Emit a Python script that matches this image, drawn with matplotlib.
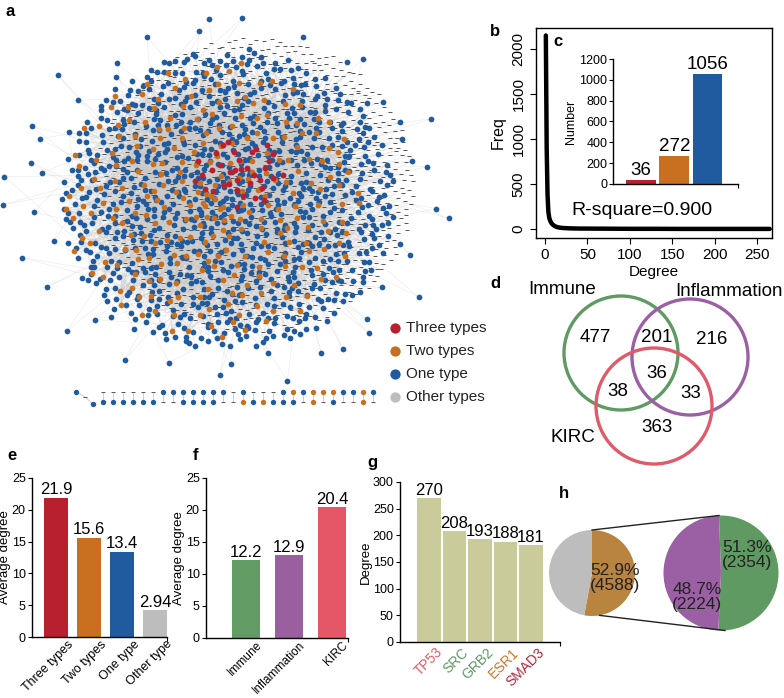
import numpy as np
import matplotlib
matplotlib.use('Agg')
import matplotlib.pyplot as plt
from matplotlib.collections import LineCollection
from matplotlib.patches import Circle

plt.rcParams['font.family'] = ['Liberation Sans', 'DejaVu Sans']
plt.rcParams['axes.linewidth'] = 1.0

W, H = 784, 698

# ---- data ----
type_labels = ['Three types', 'Two types', 'One type', 'Other types']
type_counts = [36, 272, 1056]          # node numbers (panel c)
n_other_drawn = 1300                   # grey nodes drawn in panel a

deg_b = [1, 2, 3, 4, 5, 6, 7, 8, 10, 12, 14, 17, 20, 25, 30, 40, 60, 80, 100, 130, 160, 200, 230, 265]
freq_b = [2150, 900, 380, 190, 125, 95, 75, 60, 42, 30, 22, 16, 12, 9, 7, 5, 4, 3, 2, 2, 1, 1, 1, 1]
r_square = '0.900'

venn_sets = ['Immune', 'Inflammation', 'KIRC']
venn_counts = {'100': 477, '010': 216, '001': 363, '110': 201, '101': 38, '011': 33, '111': 36}

e_cats = ['Three types', 'Two types', 'One type', 'Other type']
e_heights = [21.9, 15.6, 13.4, 4.2]
e_labels = ['21.9', '15.6', '13.4', '2.94']

f_cats = ['Immune', 'Inflammation', 'KIRC']
f_vals = [12.2, 12.9, 20.4]

g_genes = ['TP53', 'SRC', 'GRB2', 'ESR1', 'SMAD3']
g_vals = [270, 208, 193, 188, 181]
g_gene_colors = ['#e05a6a', '#5f9a62', '#5f9a62', '#c8772e', '#b3263a']

h_outer = [52.9, 47.1]
h_outer_count = 4588
h_inner = [51.3, 48.7]
h_inner_counts = [2354, 2224]

# bottom pairs in panel a: b = one type, o = two types, g = other
pair_top = 'ggggggbbbbbbbgbgggbobooobbob'
pair_bot = 'bbbbbbggbbbbggobobbbgogbggog'

c_red, c_org, c_blue, c_grey = '#b8202f', '#c8701f', '#1f5b9e', '#bdbdbd'
node_col = {'b': c_blue, 'o': c_org}

fig = plt.figure(figsize=(W / 100, H / 100), dpi=100)


def px_axes(l, t, r, b):
    return fig.add_axes([l / W, 1 - b / H, (r - l) / W, (b - t) / H])


# ---------------- panel a : network ----------------
axa = px_axes(0, 0, 480, 440)
axa.set_xlim(0, 480)
axa.set_ylim(440, 0)
axa.axis('off')


def halton(n, base, start):
    out = np.zeros(n)
    for j in range(n):
        i = j + start
        f, r = 1.0, 0.0
        while i > 0:
            f /= base
            r += f * (i % base)
            i //= base
        out[j] = r
    return out


def cloud(n, cx, cy, rx, ry, bases, start, alpha, rmin=0.0, rmax=1.0):
    u = halton(n, bases[0], start)
    v = halton(n, bases[1], start)
    r = rmin + (rmax - rmin) * u ** alpha
    t = 2 * np.pi * v
    return cx + rx * r * np.cos(t), cy + ry * r * np.sin(t)


rx_, ry_ = cloud(type_counts[0], 240, 172, 48, 36, (2, 3), 7, 0.6)
ox_, oy_ = cloud(type_counts[1], 212, 200, 150, 140, (5, 7), 11, 0.6)
bx_, by_ = cloud(type_counts[2] - 56, 228, 200, 168, 150, (2, 3), 131, 0.55)
bx2, by2 = cloud(56, 228, 200, 170, 140, (3, 5), 17, 1.0, rmin=1.02, rmax=1.35)
gx_, gy_ = cloud(n_other_drawn, 255, 185, 160, 148, (3, 7), 23, 0.5)
bx_ = np.concatenate([bx_, bx2])
by_ = np.concatenate([by_, by2])

hx = np.concatenate([rx_, ox_])
hy = np.concatenate([ry_, oy_])
nh = len(hx)
segs = []
for xs, ys, mul in [(bx_, by_, 37), (gx_, gy_, 53), (ox_, oy_, 11), (bx_, by_, 97)]:
    for i in range(len(xs)):
        h = (i * mul + 5) % nh
        segs.append([(xs[i], ys[i]), (hx[h], hy[h])])
axa.add_collection(LineCollection(segs, colors='#c8c8c8', linewidths=0.3, alpha=0.5, zorder=1))

axa.scatter(gx_, gy_, marker='_', s=7, color='#555555', linewidths=0.7, zorder=2)
axa.scatter(bx_, by_, s=17, color=c_blue, linewidths=0, zorder=3)
axa.scatter(ox_, oy_, s=17, color=c_org, linewidths=0, zorder=4)
axa.scatter(rx_, ry_, s=18, color=c_red, linewidths=0, zorder=5)

# small separate pairs at the bottom
x0, step, yt, yb = 103.3, 10.0, 392, 402
for row, yy in [(pair_top, yt), (pair_bot, yb)]:
    for i, c in enumerate(row):
        xx = x0 + i * step
        if c == 'g':
            axa.scatter([xx], [yy], marker='_', s=7, color='#555555', linewidths=0.7, zorder=3)
        else:
            axa.scatter([xx], [yy], s=15, color=node_col[c], linewidths=0, zorder=3)
for i in range(len(pair_top)):
    xx = x0 + i * step
    axa.plot([xx, xx], [yt, yb], color='#bbbbbb', lw=0.5, zorder=1)
axa.plot([76, 85, 93], [392, 397, 404], color='#bbbbbb', lw=0.5, zorder=1)
axa.scatter([76, 93], [392, 404], s=15, color=c_blue, linewidths=0, zorder=3)
axa.scatter([85], [397], marker='_', s=7, color='#555555', linewidths=0.7, zorder=3)

leg_cols = [c_red, c_org, c_blue, c_grey]
for i, (lab, col) in enumerate(zip(type_labels, leg_cols)):
    yy = 328 + 23 * i
    axa.scatter([395], [yy], s=55, color=col, linewidths=0, zorder=6)
    axa.text(406, yy, lab, fontsize=11, va='center', ha='left', color='#222222')

fig.text(6 / W, 1 - 12 / H, 'a', fontsize=12, fontweight='bold', va='center')

# ---------------- panel b : degree distribution ----------------
axb = px_axes(536, 28, 772, 238)
axb.plot(deg_b, freq_b, color='black', lw=3.2, solid_capstyle='round')
axb.set_xlim(-10.6, 267.7)
axb.set_ylim(-100, 2233)
axb.set_xticks([0, 50, 100, 150, 200, 250])
axb.set_yticks([0, 500, 1000, 1500, 2000])
axb.tick_params(labelsize=11, length=4, direction='out')
for t in axb.get_yticklabels():
    t.set_rotation(90)
    t.set_va('center')
axb.set_xlabel('Degree', fontsize=11, labelpad=2)
axb.set_ylabel('Freq', fontsize=11.5, labelpad=4)
axb.text(0.45, 0.13, 'R-square=' + r_square, transform=axb.transAxes, fontsize=14,
         ha='center', va='center')
fig.text(490 / W, 1 - 31 / H, 'b', fontsize=12, fontweight='bold', va='center')
fig.text(553 / W, 1 - 41 / H, 'c', fontsize=12, fontweight='bold', va='center')

# inset c
axc = px_axes(613, 59, 738, 184)
cx = np.arange(len(type_counts))
axc.bar(cx, type_counts, width=0.9, color=[c_red, c_org, c_blue])
for x, v in zip(cx, type_counts):
    axc.text(x, v + 10, str(v), ha='center', va='bottom', fontsize=13.5)
axc.set_xlim(-0.85, 2.92)
axc.set_ylim(0, 1200)
axc.set_yticks(range(0, 1201, 200))
axc.set_xticks([2.92])
axc.set_xticklabels([])
axc.tick_params(labelsize=9, length=3, pad=1)
axc.spines[['top', 'right']].set_visible(False)
axc.set_ylabel('Number', fontsize=9, labelpad=2)
axc.patch.set_alpha(0)

# ---------------- panel d : venn ----------------
axd = px_axes(480, 270, 784, 470)
axd.set_xlim(480, 784)
axd.set_ylim(470, 270)
axd.axis('off')
circ = [(621, 353, 57, '#5f9a62'), (690, 357, 58, '#9b5fa3'), (654, 406, 58, '#e05a6a')]
for cxx, cyy, rr, col in circ:
    axd.add_patch(Circle((cxx, cyy), rr, fill=False, lw=2.4, edgecolor=col))
axd.text(562, 290, venn_sets[0], fontsize=13.5, ha='center', va='center')
axd.text(729, 291, venn_sets[1], fontsize=13.5, ha='center', va='center')
axd.text(573, 437, venn_sets[2], fontsize=13.5, ha='center', va='center')
venn_pos = {'100': (595, 338), '110': (657, 338), '010': (712, 339), '111': (657, 373),
            '101': (618, 391), '011': (691, 393), '001': (657, 428)}
for k, (xx, yy) in venn_pos.items():
    axd.text(xx, yy, str(venn_counts[k]), fontsize=13.5, ha='center', va='center')
fig.text(490 / W, 1 - 283 / H, 'd', fontsize=12, fontweight='bold', va='center')


# ---------------- panels e, f, g : bars ----------------
def bar_panel(ax, heights, labels, colors, xlim, width, ylim, yticks, ylab):
    x = np.arange(len(heights))
    ax.bar(x, heights, width=width, color=colors)
    for xi, h, lab in zip(x, heights, labels):
        ax.text(xi, h + ylim[1] * 0.002, lab, ha='center', va='bottom', fontsize=12)
    ax.set_xlim(*xlim)
    ax.set_ylim(*ylim)
    ax.set_yticks(yticks)
    ax.set_xticks([xlim[1]])
    ax.set_xticklabels([])
    ax.spines[['top', 'right']].set_visible(False)
    ax.tick_params(labelsize=9, length=3, pad=1.5)
    ax.set_ylabel(ylab, fontsize=9.5, labelpad=0.5)
    ax.patch.set_alpha(0)
    return x


axe = px_axes(32, 478, 167, 637)
xe = bar_panel(axe, e_heights, e_labels, [c_red, c_org, c_blue, c_grey], (-0.73, 3.36), 0.72,
               (0, 25), range(0, 26, 5), 'Average degree')
for xi, lab in zip(xe, e_cats):
    axe.text(xi + 0.34, -0.2, lab, rotation=45, ha='right', va='top', rotation_mode='anchor',
             fontsize=9)
fig.text(7 / W, 1 - 455 / H, 'e', fontsize=12, fontweight='bold', va='center')

axf = px_axes(206, 478, 348, 638)
xf = bar_panel(axf, f_vals, [str(v) for v in f_vals], ['#639b65', '#9a5f9e', '#e55766'],
               (-0.94, 2.37), 0.66, (0, 25), range(0, 26, 5), 'Average degree')
for xi, lab in zip(xf, f_cats):
    axf.text(xi + 0.22, -0.2, lab, rotation=45, ha='right', va='top', rotation_mode='anchor',
             fontsize=8.6)
fig.text(193 / W, 1 - 455 / H, 'f', fontsize=12, fontweight='bold', va='center')

axg = px_axes(400, 482, 560, 642)
xg = bar_panel(axg, g_vals, [str(v) for v in g_vals], ['#c9cb9b'] * 5, (-1.14, 5.14), 0.94,
               (0, 300), range(0, 301, 50), 'Degree')
for xi, lab, col in zip(xg, g_genes, g_gene_colors):
    axg.text(xi + 0.26, -6, lab, rotation=45, ha='right', va='top', rotation_mode='anchor',
             fontsize=10, color=col)
fig.text(367 / W, 1 - 462 / H, 'g', fontsize=12, fontweight='bold', va='center')

# ---------------- panel h : pies ----------------
axh = px_axes(540, 500, 784, 650)
c1 = (592, H - 573)
r1 = 43
c2 = (721, H - 573)
r2 = 57.5
axh.pie(h_outer, colors=['#b8843f', '#bdbdbd'], startangle=90, counterclock=False,
        center=c1, radius=r1, wedgeprops=dict(linewidth=0))
axh.pie(h_inner, colors=['#5f9a62', '#9b5fa3'], startangle=92, counterclock=False,
        center=c2, radius=r2, wedgeprops=dict(linewidth=0))
axh.set_xlim(540, 784)
axh.set_ylim(H - 650, H - 500)
axh.set_aspect('equal')
a_bot = np.deg2rad(-80)
axh.plot([c1[0], c2[0] - 2], [c1[1] + r1, c2[1] + r2], color='#222222', lw=1)
axh.plot([c1[0] + r1 * np.cos(a_bot), c2[0] + 4], [c1[1] + r1 * np.sin(a_bot), c2[1] - r2],
         color='#222222', lw=1)
axh.text(615, H - 578, '%.1f%%\n(%d)' % (h_outer[0], h_outer_count), fontsize=12.5,
         ha='center', va='center', color='#222222', linespacing=1.05)
axh.text(747, H - 555, '%.1f%%\n(%d)' % (h_inner[0], h_inner_counts[0]), fontsize=12.5,
         ha='center', va='center', color='#222222', linespacing=1.05)
axh.text(697, H - 597, '%.1f%%\n(%d)' % (h_inner[1], h_inner_counts[1]), fontsize=12.5,
         ha='center', va='center', color='#222222', linespacing=1.05)
fig.text(559 / W, 1 - 493 / H, 'h', fontsize=12, fontweight='bold', va='center')

fig.savefig('out.png', dpi=100)
